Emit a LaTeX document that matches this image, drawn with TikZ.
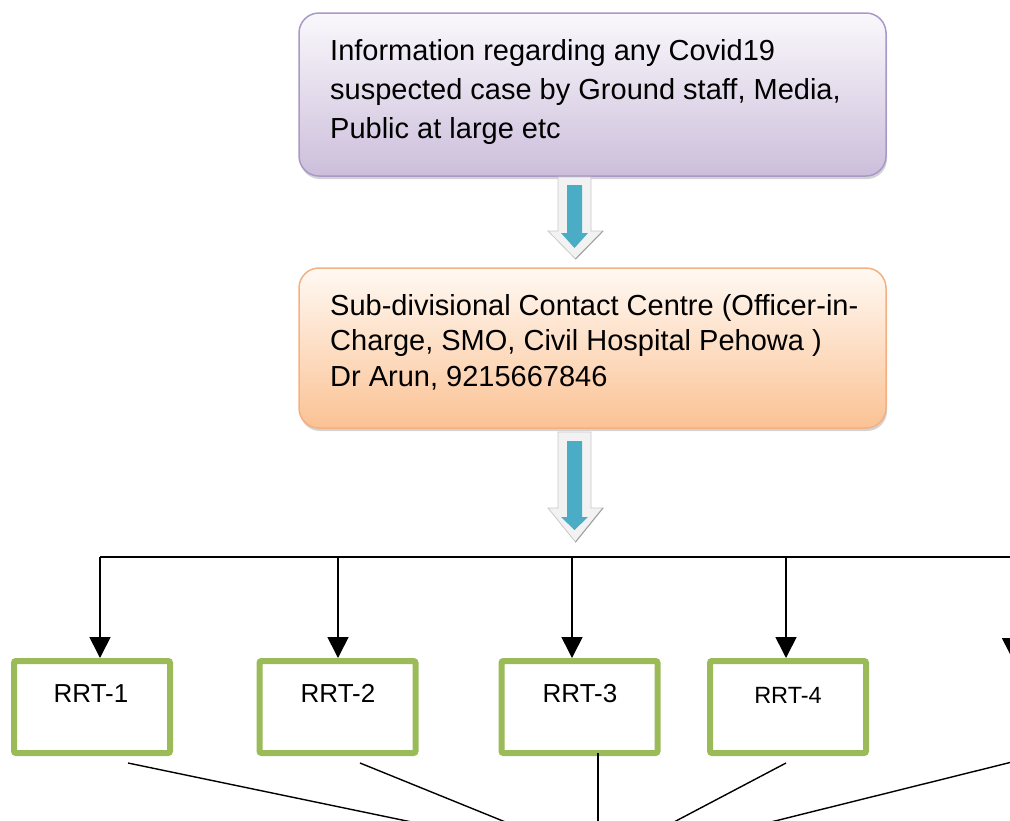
\documentclass[tikz,border=0pt]{standalone}
\usepackage{fontspec}
\setmainfont{Liberation Sans}
\usetikzlibrary{arrows.meta,shadows}
\definecolor{pTop}{RGB}{250,248,252}
\definecolor{pBot}{RGB}{204,190,219}
\definecolor{pEdge}{RGB}{168,153,198}
\definecolor{oTop}{RGB}{255,249,243}
\definecolor{oBot}{RGB}{251,194,148}
\definecolor{oEdge}{RGB}{244,176,128}
\definecolor{rrtGreen}{RGB}{155,187,89}
\definecolor{fatBlue}{RGB}{75,172,198}
\definecolor{fatGray}{RGB}{242,242,242}
\definecolor{fatEdge}{RGB}{200,200,200}
\begin{document}
\begin{tikzpicture}[x=1pt,y=-1pt,
  infobox/.style={rounded corners=20pt, line width=1.5pt, minimum width=587pt,
    inner sep=0pt, drop shadow={shadow xshift=1pt, shadow yshift=-3pt, opacity=0.35}},
  boxtext/.style={anchor=north west, align=left, inner sep=0pt},
  rrtbox/.style={draw=rrtGreen, line width=6pt, rounded corners=2pt, fill=white,
    minimum width=156pt, minimum height=92pt, inner sep=0pt},
  rrttext/.style={anchor=base, inner sep=0pt, font=\fontsize{26}{30}\selectfont},
  wire/.style={line width=1.6pt, black},
  thin wire/.style={line width=1.4pt, black},
  conn/.style={wire, -{Triangle[width=21pt,length=21pt]}},
  fatouter/.style={fill=fatGray, draw=fatEdge, line width=0.8pt, line join=miter},
  fatinner/.style={fill=fatBlue},
]
\useasboundingbox (0,0) rectangle (1010,820);
\clip (0,0) rectangle (1010,820);

% top boxes
\node[infobox, draw=pEdge, top color=pTop, bottom color=pBot, minimum height=163pt]
  (b1) at (592.5,94.5) {};
\node[boxtext, font=\fontsize{29}{39.2}\selectfont] (t1) at (330,38.9)
  {Information regarding any Covid19\\suspected case by Ground staff, Media,\\Public at large etc};

\node[infobox, draw=oEdge, top color=oTop, bottom color=oBot, minimum height=160pt]
  (b2) at (592.5,348) {};
\node[boxtext, font=\fontsize{29}{35.5}\selectfont] (t2) at (330,294)
  {Sub-divisional Contact Centre (Officer-in-\\Charge, SMO, Civil Hospital Pehowa )\\Dr Arun, 9215667846};

% block arrows
\draw[fatouter] (558,177) -- (591,177) -- (591,231) -- (603,231) -- (575.5,259)
  -- (548,231) -- (558,231) -- cycle;
\draw[fatEdge!80!black, line width=1pt] (603,231) -- (575.5,259);
\fill[fatinner] (567,185) -- (582,185) -- (582,233) -- (588,233) -- (574.5,248)
  -- (561,233) -- (567,233) -- cycle;

\draw[fatouter] (558,432) -- (591,432) -- (591,508) -- (603,508) -- (575.5,542)
  -- (548,508) -- (558,508) -- cycle;
\draw[fatEdge!80!black, line width=1pt] (603,508) -- (575.5,542);
\fill[fatinner] (567,441) -- (582,441) -- (582,517) -- (588,517) -- (574.5,530)
  -- (561,517) -- (567,517) -- cycle;

% RRT boxes
\node[rrtbox] (r1) at (92,707) {};
\node[rrtbox] (r2) at (337.5,707) {};
\node[rrtbox] (r3) at (579.5,707) {};
\node[rrtbox] (r4) at (788,707) {};
\node[rrttext] (r1t) at (91,702) {RRT-1};
\node[rrttext] (r2t) at (338,702) {RRT-2};
\node[rrttext] (r3t) at (580,702) {RRT-3};
\node[rrttext, font=\fontsize{23.5}{28}\selectfont] (r4t) at (788,703) {RRT-4};

% distribution bar
\coordinate (j1) at (100,557);
\coordinate (j2) at (338,557);
\coordinate (j3) at (572,557);
\coordinate (j4) at (786,557);
\coordinate (j5) at (1012.5,557);
\coordinate (r5top) at (1012.5,659);
\draw[wire] (j1) -- (1030,557);
\draw[conn] (j1) -- (j1 |- r1.north);
\draw[conn] (j2) -- (j2 |- r2.north);
\draw[conn] (j3) -- (j3 |- r3.north);
\draw[conn] (j4) -- (j4 |- r4.north);
\draw[conn] (j5) -- (r5top);

% lines to the lower box
\coordinate (s1) at (128,763);
\coordinate (s2) at (360,763);
\coordinate (s3) at (598,753);
\coordinate (s4) at (786,763);
\coordinate (s5) at (1012,762);
\coordinate (e1) at (604,862);
\coordinate (e3) at (598,862);
\coordinate (e5) at (610,862);
\draw[thin wire] (s1) -- (e1);
\draw[thin wire] (s2) -- (e1);
\draw[thin wire] (s3) -- (e3);
\draw[thin wire] (s4) -- (e3);
\draw[thin wire] (s5) -- (e5);
\end{tikzpicture}
\end{document}
